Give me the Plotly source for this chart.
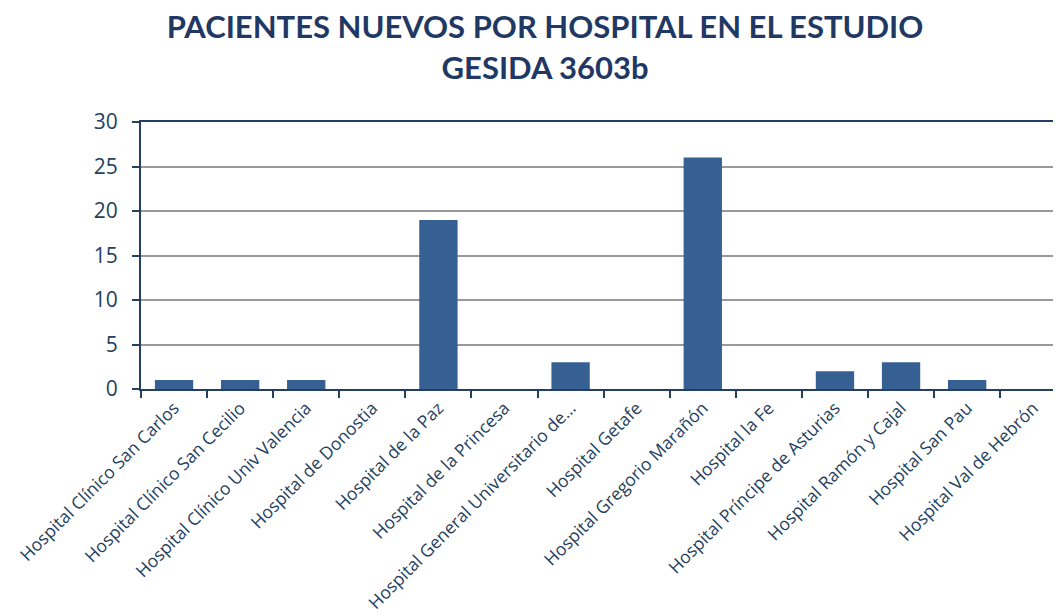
import plotly.graph_objects as go

hospitales = [
    "Hospital Clínico San Carlos",
    "Hospital Clínico San Cecilio",
    "Hospital Clínico Univ Valencia",
    "Hospital de Donostia",
    "Hospital de la Paz",
    "Hospital de la Princesa",
    "Hospital General Universitario de…",
    "Hospital Getafe",
    "Hospital Gregorio Marañón",
    "Hospital la Fe",
    "Hospital Príncipe de Asturias",
    "Hospital Ramón y Cajal",
    "Hospital San Pau",
    "Hospital Val de Hebrón",
]
pacientes = [1, 1, 1, 0, 19, 0, 3, 0, 26, 0, 2, 3, 1, 0]
y_ticks = [0, 5, 10, 15, 20, 25, 30]
titulo = ["PACIENTES NUEVOS POR HOSPITAL EN EL ESTUDIO", "GESIDA 3603b"]

navy = "#243F60"
fig = go.Figure(go.Bar(x=hospitales, y=pacientes, marker=dict(color="#376092", line=dict(width=0))))

# page body has an 8px margin, so the figure is sized to 1053x608
fig.update_layout(
    width=1053, height=608,
    margin=dict(l=133, r=0, t=114, b=227),
    paper_bgcolor="white", plot_bgcolor="white",
    bargap=0.42,
    showlegend=False,
    font=dict(family="Open Sans", color=navy),
    title=dict(
        text="<b>" + "<br>".join(titulo) + "</b>",
        x=0.51, xanchor="center", xref="container",
        y=0.95, yanchor="middle", yref="container",
        font=dict(family="Lato", size=31, color="#1F3864"),
    ),
)
fig.update_xaxes(
    range=[-0.5, 13.42],
    tickangle=-45, automargin=False,
    tickfont=dict(family="Open Sans", size=17.5, color=navy),
    showline=True, linecolor=navy, linewidth=2, mirror=True,
    ticks="outside", tickson="boundaries", ticklen=7, tickcolor=navy, tickwidth=2,
    showgrid=False,
)
fig.update_yaxes(
    range=[0, 30], automargin=False,
    tickvals=y_ticks,
    tickfont=dict(family="Open Sans", size=21, color=navy),
    ticklabelstandoff=10,
    showline=True, linecolor=navy, linewidth=2,
    ticks="outside", ticklen=7, tickcolor=navy, tickwidth=2,
    showgrid=True, gridcolor="#999999", gridwidth=1.5,
    zeroline=False,
)
fig.write_html("out.html")
